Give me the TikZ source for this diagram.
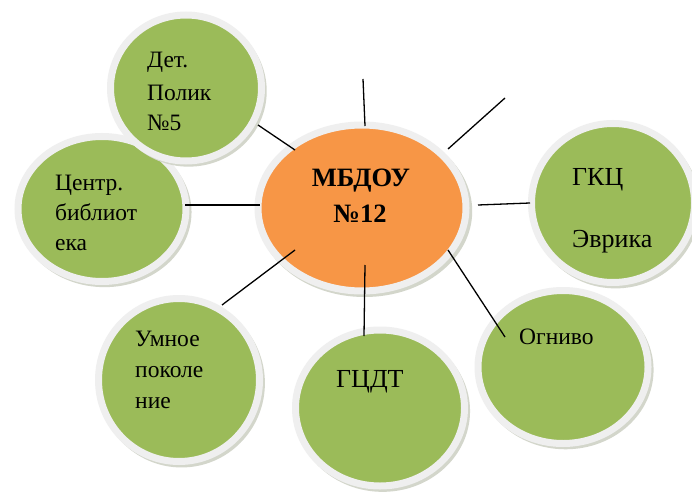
\documentclass[tikz,border=0pt]{standalone}
\usepackage{fontspec}
\setmainfont{Liberation Serif}
\newfontfamily\tnr{Liberation Serif}
\usetikzlibrary{shapes.geometric,shadows}
\definecolor{leaf}{HTML}{9BBB59}
\definecolor{orng}{HTML}{F79646}
\definecolor{ringc}{HTML}{EFEFEF}
\definecolor{shad}{HTML}{D3D6CB}
\begin{document}
\begin{tikzpicture}[x=1pt,y=-1pt,
  bubble/.style={ellipse, draw=ringc, line width=7pt, fill=leaf, inner sep=0pt,
    drop shadow={shadow xshift=2.5pt, shadow yshift=-3pt, shadow scale=1.035, fill=shad, opacity=1}},
  lbl/.style={anchor=base west, inner sep=0pt, font=\tnr\fontsize{23.5}{28}\selectfont},
  big/.style={anchor=base west, inner sep=0pt, font=\tnr\fontsize{26}{30}\selectfont},
  title/.style={anchor=base, inner sep=0pt, font=\tnr\bfseries\fontsize{26.5}{30}\selectfont},
  link/.style={line width=1.3pt, black}]
\useasboundingbox (0,0) rectangle (692,492);
\fill[white] (0,0) rectangle (692,492);
% bubbles
\node[bubble, minimum width=168, minimum height=145] (cen) at (102,209) {};
\node[bubble, minimum width=151, minimum height=146] (det) at (186,88) {};
\node[bubble, minimum width=161, minimum height=163] (umn) at (179,380) {};
\node[bubble, minimum width=169, minimum height=156] (gcdt) at (380,408) {};
\node[bubble, minimum width=163, minimum height=159] (gkc) at (613,203) {};
\node[bubble, minimum width=170, minimum height=153] (ogn) at (563,367) {};
\node[bubble, fill=orng, minimum width=208, minimum height=166] (main) at (362,208) {};
% connector ends
\coordinate (mDet) at (295,150);
\coordinate (dDet) at (258,125);
\coordinate (mTop) at (365,126);
\coordinate (fTop) at (363,79);
\coordinate (mTR) at (448,149);
\coordinate (fTR) at (505,98);
\coordinate (mCen) at (260,205);
\coordinate (cCen) at (185,205);
\coordinate (mGkc) at (478,205);
\coordinate (gGkc) at (530,203);
\coordinate (mUmn) at (295,250);
\coordinate (uUmn) at (222,305);
\coordinate (mGcdt) at (365,265);
\coordinate (gGcdt) at (364,336);
\coordinate (mOgn) at (448,250);
\coordinate (oOgn) at (505,337);
\draw[link] (dDet) -- (mDet);
\draw[link] (fTop) -- (mTop);
\draw[link] (fTR) -- (mTR);
\draw[link] (cCen) -- (mCen);
\draw[link] (mGkc) -- (gGkc);
\draw[link] (mUmn) -- (uUmn);
\draw[link] (mGcdt) -- (gGcdt);
\draw[link] (mOgn) -- (oOgn);
% texts
\node[title] (t1) at (361,186) {МБДОУ};
\node[title] (t2) at (360,222) {№12};
\node[lbl] (d1) at (147,68) {Дет.};
\node[lbl] (d2) at (147,100) {Полик};
\node[lbl] (d3) at (147,130) {№5};
\node[lbl] (c1) at (55,190) {Центр.};
\node[lbl] (c2) at (55,220) {библиот};
\node[lbl] (c3) at (55,250) {ека};
\node[lbl] (u1) at (135,346) {Умное};
\node[lbl] (u2) at (135,377) {поколе};
\node[lbl] (u3) at (135,408) {ние};
\node[big] (g1) at (336,387) {ГЦДТ};
\node[big] (k1) at (572,185) {ГКЦ};
\node[big] (k2) at (572,247) {Эврика};
\node[lbl] (o1) at (519,344) {Огниво};
\end{tikzpicture}
\end{document}
